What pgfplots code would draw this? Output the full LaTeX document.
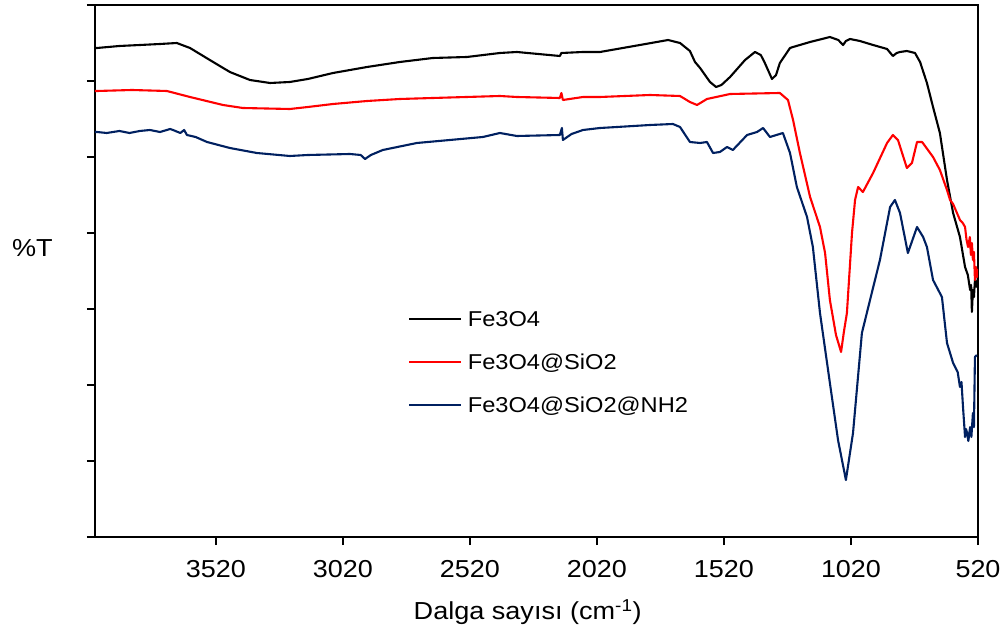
\documentclass[border=0pt]{standalone}
\usepackage{fontspec}
\setmainfont{Liberation Sans}[FakeStretch=1.1]
\usepackage{pgfplots}
\pgfplotsset{compat=1.18}
\definecolor{cBlack}{RGB}{0,0,0}
\definecolor{cRed}{RGB}{255,0,0}
\definecolor{cNavy}{RGB}{0,32,96}
\newcommand{\tickfont}{\fontsize{24.5bp}{29bp}\selectfont}
\newcommand{\labfont}{\fontsize{24.6bp}{29bp}\selectfont}
\newcommand{\legfont}{\fontsize{21.5bp}{26bp}\selectfont}
\begin{document}
\begin{tikzpicture}
\path[use as bounding box] (-95bp,-96bp) rectangle (910bp,537bp);
\begin{axis}[
  at={(0,0)}, anchor=south west,
  scale only axis,
  width=883bp, height=532bp,
  x dir=reverse,
  xmin=520, xmax=3996,
  ymin=0, ymax=532,
  xtick={520,1020,1520,2020,2520,3020,3520},
  xticklabels={520,1020,1520,2020,2520,3020,3520},
  ytick={0,76,152,228,304,380,456,532},
  yticklabels={},
  tick pos=left,
  tick align=outside,
  major tick length=8bp,
  every tick/.style={black, line width=1.4bp},
  axis line style={line width=1.9bp},
  xticklabel style={font=\tickfont, inner sep=0pt, anchor=north, yshift=-15bp},
  xlabel={Dalga sayısı (cm\textsuperscript{-1})},
  xlabel style={font=\labfont, at={(axis description cs:0.49,-0.156)}, anchor=base, inner sep=0pt},
  ylabel={\%T},
  ylabel style={font=\labfont, rotate=-90, at={(axis description cs:-0.094,0.543)}, anchor=west, inner sep=0pt},
  legend style={draw=none, fill=none, inner sep=0pt, font=\legfont,
    at={(axis description cs:0.3545,0.427)}, anchor=north west,
    row sep=22bp, column sep=6bp,
    nodes={inner sep=0pt, text height=16bp, text depth=5bp}},
  legend cell align=left,
  legend image code/.code={\draw[#1, line width=1.6bp] (0bp,1.5bp) -- (52bp,1.5bp);},
]
\addplot[cBlack, line width=2.1bp, line join=round] coordinates {
(3996,489) (3988,489) (3900,491) (3819,492) (3740,493) (3674,494) (3622,489)
(3544,477) (3465,465) (3386,457) (3307,454) (3229,455) (3158,458) (3059,464)
(2925,470) (2796,475) (2666,479) (2532,480) (2402,484) (2335,485) (2166,481)
(2160,484) (2075,485) (2008,485) (1851,492) (1740,497) (1693,494) (1654,486)
(1634,475) (1614,469) (1575,455) (1551,450) (1530,452) (1496,460) (1437,477)
(1398,485) (1375,482) (1359,474) (1331,458) (1315,462) (1300,474) (1260,489)
(1248,490) (1181,495) (1103,500) (1070,497) (1051,492) (1040,496) (1024,498)
(985,496) (933,492) (878,488) (855,481) (840,484) (827,485) (800,486) (768,484)
(748,475) (721,454) (697,430) (670,404) (642,357) (618,324) (591,300)
(571,270) (560,262) (551,247) (547,252) (544,225) (540,247) (536,240) (532,257) (524,250) (520,262)
};
\addlegendentry{Fe3O4}
\addplot[cRed, line width=2.1bp, line join=round] coordinates {
(3996,446) (3988,446) (3850,447) (3713,446) (3622,440) (3492,432) (3414,429)
(3229,428) (3158,430) (3059,433) (2925,436) (2796,438) (2666,439) (2402,441)
(2335,440) (2166,439) (2160,444) (2154,437) (2075,440) (2008,440) (1811,442)
(1693,441) (1654,435) (1626,432) (1587,438) (1496,443) (1300,444) (1268,437)
(1248,417) (1221,384) (1181,340) (1142,310) (1122,284) (1103,237) (1079,202)
(1059,185) (1048,205) (1036,224) (1016,304) (1004,337) (992,350) (973,345)
(933,364) (878,394) (855,402) (835,397) (800,369) (780,374) (760,395)
(740,395) (697,380) (670,367) (642,347) (630,337) (618,333) (591,317)
(580,314) (571,310) (565,297) (559,290) (552,300) (548,282) (544,294)
(540,277) (536,285) (532,257) (528,270) (524,260) (520,268)
};
\addlegendentry{Fe3O4@SiO2}
\addplot[cNavy, line width=2.1bp, line join=round] coordinates {
(3996,405) (3988,405) (3950,404) (3900,406) (3860,404) (3820,406) (3780,407)
(3740,405) (3700,408) (3689,407) (3660,404) (3645,407) (3634,402) (3600,400)
(3555,395) (3465,389) (3359,384) (3229,381) (3158,382) (2992,383) (2950,382)
(2933,378) (2910,382) (2863,387) (2729,394) (2599,397) (2469,400) (2402,404)
(2335,401) (2166,402) (2158,409) (2154,397) (2120,403) (2075,407) (2008,409)
(1941,410) (1811,412) (1721,413) (1693,410) (1654,395) (1614,394) (1587,395)
(1563,384) (1536,385) (1508,390) (1485,387) (1429,402) (1390,405) (1366,409)
(1339,400) (1288,404) (1260,384) (1233,350) (1193,320) (1170,290) (1142,224)
(1103,154) (1071,97) (1040,57) (1012,104) (977,204) (945,237) (906,277)
(866,330) (847,337) (827,324) (796,284) (760,310) (736,300) (721,290)
(697,257) (662,240) (642,194) (618,174) (600,165) (591,150) (585,155) (579,130)
(571,100) (567,108) (563,104) (558,96) (551,110) (546,100) (540,124) (536,110) (532,180) (524,182)
};
\addlegendentry{Fe3O4@SiO2@NH2}
\end{axis}
\end{tikzpicture}
\end{document}
